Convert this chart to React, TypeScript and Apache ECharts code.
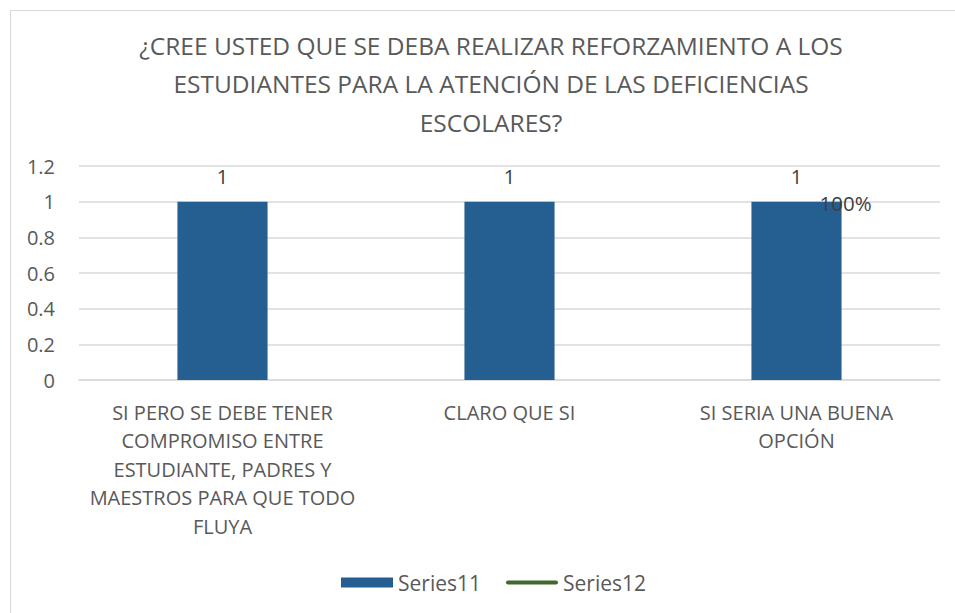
import React, { useEffect, useRef } from "react";
import * as echarts from "echarts";

const titleText =
  "¿CREE USTED QUE SE DEBA REALIZAR REFORZAMIENTO A LOS\nESTUDIANTES PARA LA ATENCIÓN DE LAS DEFICIENCIAS\nESCOLARES?";
const categories = [
  "SI PERO SE DEBE TENER\nCOMPROMISO ENTRE\nESTUDIANTE, PADRES Y\nMAESTROS PARA QUE TODO\nFLUYA",
  "CLARO QUE SI",
  "SI SERIA UNA BUENA\nOPCIÓN",
];
const series11 = [1, 1, 1];
const series12: (number | null)[] = [null, null, 1];
const series12Labels = ["", "", "100%"];
const yTicks = { min: 0, max: 1.2, interval: 0.2 };

const FONT = "Open Sans";
const TEXT = "#595959";

export default function App() {
  const ref = useRef<HTMLDivElement>(null);
  useEffect(() => {
    if (!ref.current) return;
    const chart = echarts.init(ref.current, undefined, { renderer: "svg" });
    chart.setOption({
      animation: false,
      backgroundColor: "#ffffff",
      textStyle: { fontFamily: FONT },
      title: {
        text: titleText,
        left: 486,
        textAlign: "center",
        top: 21,
        textStyle: {
          fontFamily: FONT,
          fontSize: 24.5,
          fontWeight: "normal",
          color: TEXT,
          lineHeight: 38.5,
        },
      },
      graphic: [
        { type: "line", shape: { x1: 10, y1: 10.5, x2: 955, y2: 10.5 }, style: { stroke: "#d9d9d9", lineWidth: 1 } },
        { type: "line", shape: { x1: 10.5, y1: 10, x2: 10.5, y2: 613 }, style: { stroke: "#d9d9d9", lineWidth: 1 } },
      ],
      legend: {
        top: 567,
        left: 336,
        itemGap: 25,
        itemWidth: 52,
        itemHeight: 10,
        textStyle: { fontFamily: FONT, fontSize: 21, color: TEXT },
        data: [
          { name: "Series11", icon: "rect" },
          {
            name: "Series12",
            icon: "path://M2,0 L50,0 A2,2 0 0 1 50,4 L2,4 A2,2 0 0 1 2,0 Z",
            itemStyle: { color: "#43682b" },
          },
        ],
      },
      grid: { left: 79, right: 15, top: 166, bottom: 233 },
      xAxis: {
        type: "category",
        data: categories,
        axisLine: { lineStyle: { color: "#d9d9d9", width: 1.5 } },
        axisTick: { show: false },
        axisLabel: {
          fontFamily: FONT,
          fontSize: 20,
          color: TEXT,
          lineHeight: 28.5,
          margin: 18,
          interval: 0,
        },
      },
      yAxis: {
        type: "value",
        min: yTicks.min,
        max: yTicks.max,
        interval: yTicks.interval,
        axisLine: { show: false },
        axisTick: { show: false },
        splitLine: { lineStyle: { color: "#d9d9d9", width: 1.5 } },
        axisLabel: {
          fontFamily: FONT,
          fontSize: 20,
          color: TEXT,
          margin: 24,
          formatter: (v: number) => String(Math.round(v * 10) / 10),
        },
      },
      series: [
        {
          name: "Series11",
          type: "bar",
          data: series11,
          barWidth: "31.4%",
          itemStyle: { color: "#255e91" },
          label: {
            show: true,
            position: "top",
            distance: 15,
            fontFamily: FONT,
            fontSize: 20,
            color: "#404040",
          },
        },
        {
          name: "Series12",
          type: "line",
          data: series12,
          symbol: "circle",
          symbolSize: 0,
          showSymbol: true,
          lineStyle: { color: "#43682b", width: 4 },
          itemStyle: { color: "#43682b" },
          label: {
            show: true,
            position: "right",
            distance: 23,
            offset: [0, 1],
            fontFamily: FONT,
            fontSize: 20.5,
            color: "#404040",
            formatter: (p: any) => series12Labels[p.dataIndex],
          },
        },
      ],
    });
    return () => chart.dispose();
  }, []);
  return (
    <div
      ref={ref}
      style={{ position: "fixed", left: 0, top: 0, width: 955, height: 613 }}
    />
  );
}
